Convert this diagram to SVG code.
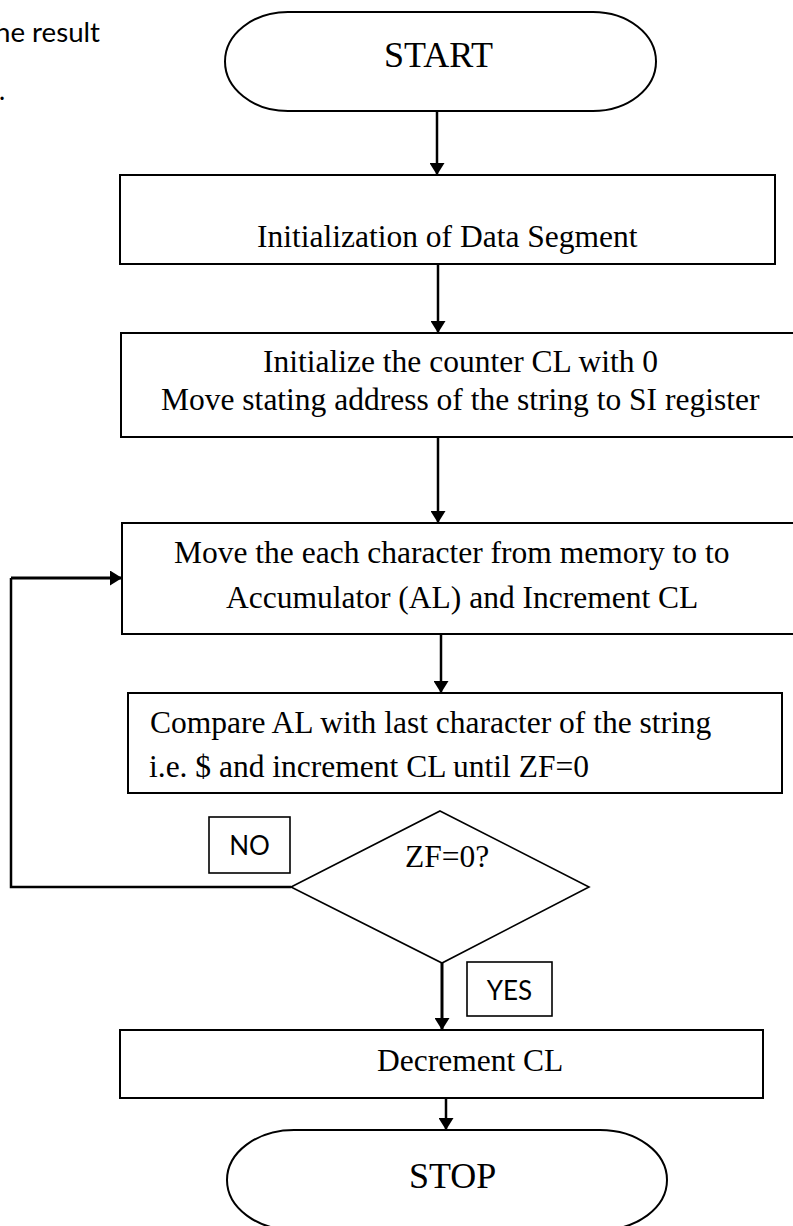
<svg xmlns="http://www.w3.org/2000/svg" width="793" height="1226" viewBox="0 0 793 1226">
<defs>
<marker id="ah" viewBox="0 0 12 15" refX="12" refY="7.5" markerWidth="12" markerHeight="15" markerUnits="userSpaceOnUse" orient="auto">
<path d="M0,0 L12,7.5 L0,15 Z" fill="#000"/>
</marker>
<style>
.box{fill:#fff;stroke:#000;stroke-width:2}
.term{fill:#fff;stroke:#000;stroke-width:2}
.dia{fill:#fff;stroke:#000;stroke-width:1.6}
.lbl{fill:#fff;stroke:#000;stroke-width:1.6}
.t{font-family:"Liberation Serif","Times New Roman",serif;font-size:31.5px;fill:#000}
.tb{font-family:"Liberation Serif","Times New Roman",serif;font-size:36px;fill:#000}
.s{font-family:Lato,"Open Sans","Liberation Sans",sans-serif;font-size:26px;fill:#000}
.c{fill:none;stroke:#000;stroke-width:2.5}
.ct{fill:none;stroke:#000;stroke-width:3}
</style>
</defs>
<rect width="793" height="1226" fill="#fff"/>
<g id="note">
<text class="s" x="-5" y="42" textLength="105" lengthAdjust="spacingAndGlyphs">he result</text>
<text class="s" x="-1" y="100">.</text>
</g>
<g id="connectors">
<line class="c" x1="437" y1="111" x2="437" y2="175" marker-end="url(#ah)"/>
<line class="c" x1="438" y1="264" x2="438" y2="333" marker-end="url(#ah)"/>
<line class="c" x1="438" y1="437" x2="438" y2="523" marker-end="url(#ah)"/>
<line class="c" x1="441" y1="634" x2="441" y2="693" marker-end="url(#ah)"/>
<polyline class="c" points="291,887 11,887 11,578"/>
<polyline class="ct" points="11,578 122,578" marker-end="url(#ah)"/>
<line class="ct" x1="442" y1="963" x2="442" y2="1030" marker-end="url(#ah)"/>
<line class="c" x1="446" y1="1098" x2="446" y2="1130" marker-end="url(#ah)"/>
</g>
<g id="start">
<path class="term" d="M288,12 H593 A63,49.5 0 0 1 593,111 H288 A63,49.5 0 0 1 288,12 Z"/>
<text class="tb" x="384" y="67">START</text>
</g>
<g id="init-ds">
<rect class="box" x="120" y="175" width="655" height="89"/>
<text class="t" x="257" y="247">Initialization of Data Segment</text>
</g>
<g id="init-cl">
<rect class="box" x="121" y="333" width="700" height="104"/>
<text class="t" x="263" y="372">Initialize the counter CL with 0</text>
<text class="t" x="161" y="410">Move stating address of the string to SI register</text>
</g>
<g id="move-char">
<rect class="box" x="122" y="523" width="700" height="111"/>
<text class="t" x="174" y="563">Move the each character from memory to to</text>
<text class="t" x="226" y="608">Accumulator (AL) and Increment CL</text>
</g>
<g id="compare">
<rect class="box" x="128" y="693" width="654" height="100"/>
<text class="t" x="150" y="733">Compare AL with last character of the string</text>
<text class="t" x="149" y="777">i.e. $ and increment CL until ZF=0</text>
</g>
<g id="decision">
<polygon class="dia" points="440,811 589,887 442,963 291,887"/>
<text class="t" x="405" y="867">ZF=0?</text>
</g>
<g id="label-no">
<rect class="lbl" x="209" y="817" width="81" height="56"/>
<text class="s" x="249.5" y="855" text-anchor="middle">NO</text>
</g>
<g id="label-yes">
<rect class="lbl" x="467" y="962" width="85" height="54"/>
<text class="s" x="509.5" y="1000" text-anchor="middle">YES</text>
</g>
<g id="decrement">
<rect class="box" x="120" y="1030" width="643" height="68"/>
<text class="t" x="377" y="1071">Decrement CL</text>
</g>
<g id="stop">
<path class="term" d="M294,1130 H600 A67,50 0 0 1 600,1230 H294 A67,50 0 0 1 294,1130 Z"/>
<text class="tb" x="409" y="1188">STOP</text>
</g>
</svg>
